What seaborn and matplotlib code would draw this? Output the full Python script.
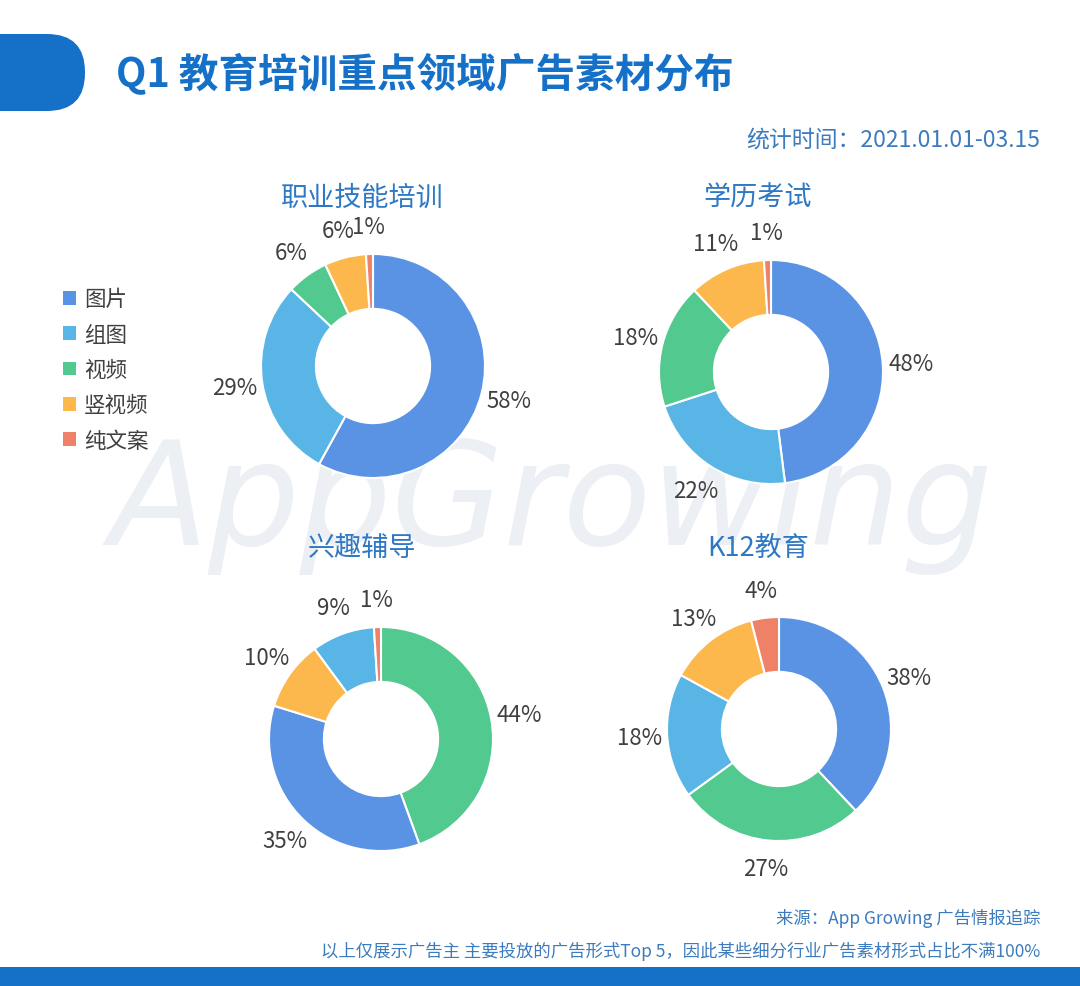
import matplotlib
matplotlib.use("Agg")
import matplotlib.pyplot as plt
import seaborn as sns
from matplotlib.patches import FancyBboxPatch, Rectangle, Patch

sns.set_theme(style="white")
plt.rcParams['font.family'] = ['Noto Sans CJK SC', 'DejaVu Sans']

# 数据
legend_cats = ["图片", "组图", "视频", "竖视频", "纯文案"]
cat_colors = ["#5B93E4", "#58B5E5", "#52C98E", "#FDB84D", "#EE8167"]

titles = ["职业技能培训", "学历考试", "兴趣辅导", "K12教育"]

cats_job = ["图片", "组图", "视频", "竖视频", "纯文案"]
vals_job = [58, 29, 6, 6, 1]

cats_degree = ["图片", "组图", "视频", "竖视频", "纯文案"]
vals_degree = [48, 22, 18, 11, 1]

cats_hobby = ["视频", "图片", "竖视频", "组图", "纯文案"]
vals_hobby = [44, 35, 10, 9, 1]

cats_k12 = ["图片", "视频", "组图", "竖视频", "纯文案"]
vals_k12 = [38, 27, 18, 13, 4]

W, H = 1080, 987
BLUE = "#1570C8"
TXT_BLUE = "#3C7BBE"

palette = dict(zip(legend_cats, sns.color_palette(cat_colors)))

fig = plt.figure(figsize=(W / 100, H / 100), dpi=100)
fig.patch.set_facecolor("white")

# 背景装饰层 (像素坐标)
bg = fig.add_axes([0, 0, 1, 1])
bg.set_xlim(0, W)
bg.set_ylim(H, 0)
bg.axis("off")

bg.add_patch(FancyBboxPatch((-60, 35), 145, 77, boxstyle="round,pad=0,rounding_size=38",
                            facecolor=BLUE, edgecolor="none"))
bg.add_patch(Rectangle((0, 968), W, 19, facecolor=BLUE, edgecolor="none"))

bg.text(116, 74, "Q1 教育培训重点领域广告素材分布", fontsize=28.5, fontweight="bold",
        color=BLUE, ha="left", va="center")
bg.text(1040, 140, "统计时间：2021.01.01-03.15", fontsize=16.5, color=TXT_BLUE,
        ha="right", va="center")

# 水印
bg.text(552, 505, "AppGrowing", fontsize=104, style="italic",
        color="#ECEFF3", ha="center", va="center", family="DejaVu Sans", zorder=0)

bg.text(1040, 919, "来源：App Growing 广告情报追踪", fontsize=12.5, color=TXT_BLUE,
        ha="right", va="center")
bg.text(1040, 951, "以上仅展示广告主 主要投放的广告形式Top 5，因此某些细分行业广告素材形式占比不满100%",
        fontsize=12.5, color=TXT_BLUE, ha="right", va="center")

# 四个环形图
R = 112
LIM = 1.4
charts = [
    (titles[0], cats_job, vals_job, (373, 367), (362, 198)),
    (titles[1], cats_degree, vals_degree, (771, 373), (758, 198)),
    (titles[2], cats_hobby, vals_hobby, (381, 740), (362, 548)),
    (titles[3], cats_k12, vals_k12, (779, 730), (758, 548)),
]

for title, cats, vals, (cx, cy), (tx, ty) in charts:
    size = 2 * LIM * R
    ax = fig.add_axes([(cx - size / 2) / W, 1 - (cy + size / 2) / H, size / W, size / H])
    ax.set_facecolor("none")
    wedges, texts, autotexts = ax.pie(
        vals, colors=[palette[c] for c in cats], startangle=90, counterclock=False,
        radius=1, autopct="%d", pctdistance=1.25,
        wedgeprops=dict(width=0.49, edgecolor="white", linewidth=1.5),
        textprops=dict(fontsize=16, color="#404040"))
    for t, v in zip(autotexts, vals):
        t.set_text(f"{v}%")
    ax.set_xlim(-LIM, LIM)
    ax.set_ylim(-LIM, LIM)
    ax.set_aspect("equal")
    ax.axis("off")
    bg.text(tx, ty, title, fontsize=19.5, color="#2F78C4", ha="center", va="center")

# 图例
handles = [Patch(facecolor=palette[c], edgecolor="none", label=c) for c in legend_cats]
fig.legend(handles=handles, loc="upper left", bbox_to_anchor=(44 / W, 1 - 270 / H),
           frameon=False, fontsize=15.5, handlelength=0.6, handleheight=0.6,
           handletextpad=0.35, labelspacing=0.62, labelcolor="#404040")

fig.savefig("out.png", dpi=100)
